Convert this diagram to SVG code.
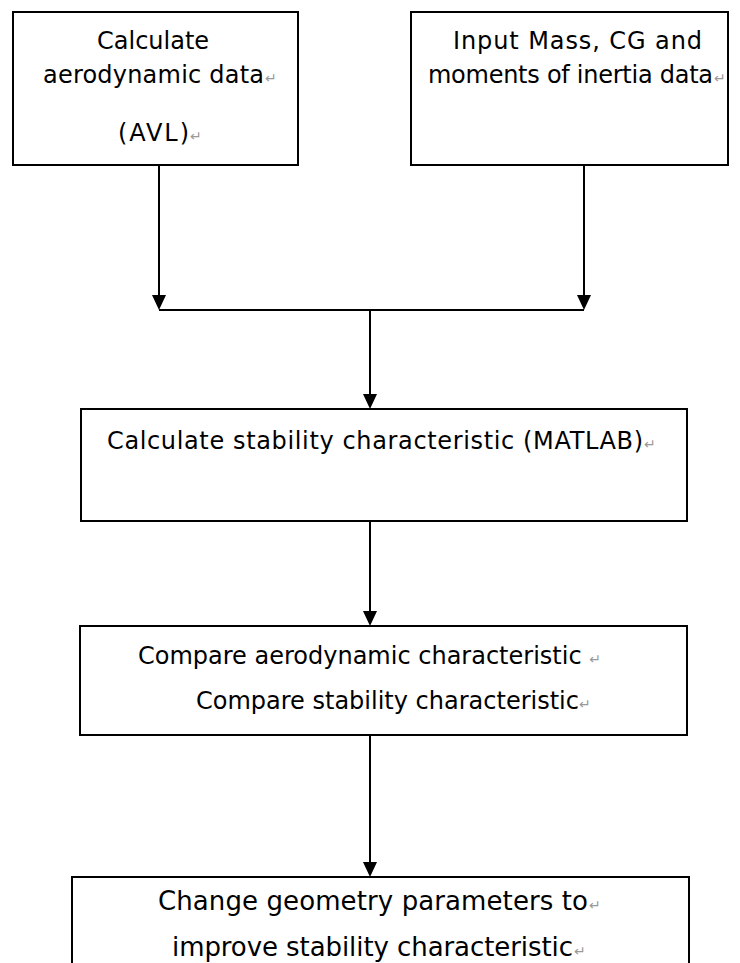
<svg xmlns="http://www.w3.org/2000/svg" width="740" height="963" viewBox="0 0 740 963">
<style>
.box{fill:#fff;stroke:#000;stroke-width:2}
.t{font-family:"DejaVu Sans",Verdana,sans-serif;font-size:24px;fill:#000}
.b5{font-size:26px}
.rm{font-family:"DejaVu Sans",sans-serif;fill:#999;font-size:14px}
.ln{stroke:#000;stroke-width:2;fill:none}
</style>
<rect width="740" height="963" fill="#fff"/>
<g id="connectors">
<path class="ln" d="M159,165 V296"/>
<path d="M152,295 L166,295 L159,310 z"/>
<path class="ln" d="M584,165 V296"/>
<path d="M577,295 L591,295 L584,310 z"/>
<path class="ln" d="M159,310 H584"/>
<path class="ln" d="M370,310 V396"/>
<path d="M363,394 L377,394 L370,409 z"/>
<path class="ln" d="M370,521 V612"/>
<path d="M363,611 L377,611 L370,626 z"/>
<path class="ln" d="M370,735 V863"/>
<path d="M363,862 L377,862 L370,877 z"/>
</g>
<g id="n1">
<rect class="box" x="13" y="12" width="285" height="153"/>
<text class="t" x="97" y="49">Calculate</text>
<text class="t" x="43" y="83" textLength="221" lengthAdjust="spacing">aerodynamic data</text>
<text class="rm" x="265" y="83">↵</text>
<text class="t" x="118" y="141" textLength="71" lengthAdjust="spacing">(AVL)</text>
<text class="rm" x="190" y="141">↵</text>
</g>
<g id="n2">
<rect class="box" x="411" y="12" width="317" height="153"/>
<text class="t" x="453" y="49" textLength="249" lengthAdjust="spacing">Input Mass, CG and</text>
<text class="t" x="428" y="83" textLength="285" lengthAdjust="spacing">moments of inertia data</text>
<text class="rm" x="714" y="83">↵</text>
</g>
<g id="n3">
<rect class="box" x="81" y="409" width="606" height="112"/>
<text class="t" x="107" y="449" textLength="536" lengthAdjust="spacing">Calculate stability characteristic (MATLAB)</text>
<text class="rm" x="644" y="449">↵</text>
</g>
<g id="n4">
<rect class="box" x="80" y="626" width="607" height="109"/>
<text class="t" x="138" y="664">Compare aerodynamic characteristic <tspan class="rm">↵</tspan></text>
<text class="t" x="196" y="709">Compare stability characteristic<tspan class="rm">↵</tspan></text>
</g>
<g id="n5">
<rect class="box" x="72" y="877" width="617" height="100"/>
<text class="t b5" x="158" y="910" textLength="430" lengthAdjust="spacing">Change geometry parameters to</text>
<text class="rm" x="589" y="910">↵</text>
<text class="t b5" x="172" y="956" textLength="401" lengthAdjust="spacing">improve stability characteristic</text>
<text class="rm" x="574" y="956">↵</text>
</g>
</svg>
